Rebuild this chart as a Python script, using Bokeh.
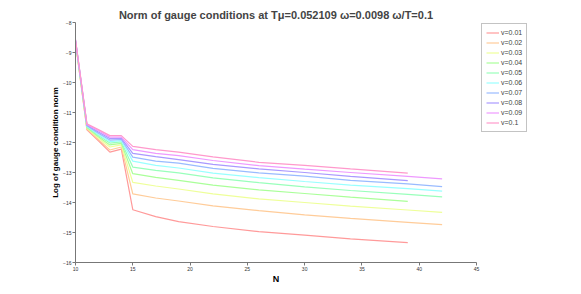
from bokeh.plotting import figure
from bokeh.models import Legend, LegendItem, Range1d, FixedTicker, Title
from bokeh.embed import file_html
from bokeh.resources import INLINE

# ---- data ----
N_short = [10, 11, 12, 13, 14, 15, 17, 19, 22, 26, 30, 34, 39]
N_long = [10, 11, 12, 13, 14, 15, 17, 19, 22, 26, 30, 34, 39, 42]

v_labels = ["v=0.01", "v=0.02", "v=0.03", "v=0.04", "v=0.05",
            "v=0.06", "v=0.07", "v=0.08", "v=0.09", "v=0.1"]

v001 = [-8.66, -11.58, -11.94, -12.32, -12.22, -14.24, -14.47, -14.64, -14.80, -14.97, -15.09, -15.21, -15.34]
v002 = [-8.65, -11.55, -11.90, -12.25, -12.15, -13.71, -13.85, -13.95, -14.11, -14.27, -14.41, -14.53, -14.66, -14.74]
v003 = [-8.64, -11.52, -11.85, -12.15, -12.08, -13.33, -13.45, -13.55, -13.71, -13.88, -14.00, -14.12, -14.25, -14.33]
v004 = [-8.63, -11.50, -11.81, -12.08, -12.03, -13.04, -13.16, -13.26, -13.42, -13.58, -13.70, -13.82, -13.96]
v005 = [-8.62, -11.48, -11.77, -12.02, -11.98, -12.82, -12.93, -13.01, -13.18, -13.34, -13.48, -13.60, -13.73, -13.81]
v006 = [-8.61, -11.46, -11.73, -11.97, -11.94, -12.62, -12.76, -12.85, -13.02, -13.17, -13.30, -13.42, -13.54, -13.62]
v007 = [-8.60, -11.44, -11.69, -11.92, -11.90, -12.49, -12.62, -12.69, -12.86, -13.01, -13.12, -13.26, -13.38, -13.47]
v008 = [-8.59, -11.42, -11.65, -11.87, -11.86, -12.36, -12.47, -12.57, -12.73, -12.88, -13.00, -13.13, -13.27]
v009 = [-8.58, -11.40, -11.61, -11.82, -11.82, -12.24, -12.36, -12.44, -12.60, -12.77, -12.89, -13.00, -13.13, -13.21]
v010 = [-8.57, -11.38, -11.57, -11.77, -11.77, -12.13, -12.24, -12.32, -12.48, -12.66, -12.76, -12.88, -13.02]

series = [
    (N_short, v001), (N_long, v002), (N_long, v003), (N_short, v004), (N_long, v005),
    (N_long, v006), (N_long, v007), (N_short, v008), (N_long, v009), (N_short, v010),
]

x_ticks = [10, 15, 20, 25, 30, 35, 40, 45]
y_ticks = [-16, -15, -14, -13, -12, -11, -10, -9, -8]

palette = ["#ff9a9a", "#ffcc99", "#eeff99", "#aaff99", "#99ffbb",
           "#99ffff", "#99bbff", "#aa99ff", "#ee99ff", "#ff99cc"]

FONT = "Liberation Sans"

p = figure(frame_width=401, frame_height=240, output_backend="svg",
           toolbar_location=None, x_range=Range1d(10, 45), y_range=Range1d(-16, -8),
           min_border_left=75, min_border_right=94, min_border_top=22, min_border_bottom=26)
p.outline_line_color = None
p.xgrid.visible = False
p.ygrid.visible = False

t = Title(text="Norm of gauge conditions at T\u03bc=0.052109 \u03c9=0.0098 \u03c9/T=0.1",
          align="center", text_font=FONT, text_font_size="11px", text_font_style="bold",
          standoff=3, offset=0)
p.add_layout(t, "above")

items = []
for (xs, ys), lab, col in zip(series, v_labels, palette):
    r = p.line(xs, ys, line_color=col, line_width=1.2)
    items.append(LegendItem(label=lab, renderers=[r]))

for ax in (p.xaxis[0], p.yaxis[0]):
    ax.axis_line_color = "#777777"
    ax.major_tick_line_color = "#777777"
    ax.major_tick_in = 0
    ax.major_tick_out = 3
    ax.minor_tick_line_color = None
    ax.major_label_text_font = FONT
    ax.major_label_text_font_size = "5px"
    ax.major_label_text_color = "#333333"
    ax.axis_label_text_font = FONT
    ax.axis_label_text_font_style = "bold"
    ax.axis_label_text_color = "black"

p.xaxis.ticker = FixedTicker(ticks=x_ticks)
p.yaxis.ticker = FixedTicker(ticks=y_ticks)
p.xaxis.axis_label = "N"
p.xaxis.axis_label_text_font_size = "9px"
p.xaxis.axis_label_standoff = 0
p.xaxis.major_label_standoff = 1
p.yaxis.axis_label = "Log of gauge condition norm"
p.yaxis.axis_label_text_font_size = "8px"
p.yaxis.axis_label_standoff = 0
p.yaxis.major_label_standoff = 1

legend = Legend(items=items, location=(5, 130), label_text_font=FONT,
                label_text_font_size="7px", label_height=9, glyph_height=9,
                glyph_width=13, spacing=1, padding=4, margin=0, label_standoff=2,
                border_line_color="#888888", border_line_width=1,
                background_fill_color="white")
p.add_layout(legend, "right")

open("out.html", "w").write(file_html(p, INLINE))
